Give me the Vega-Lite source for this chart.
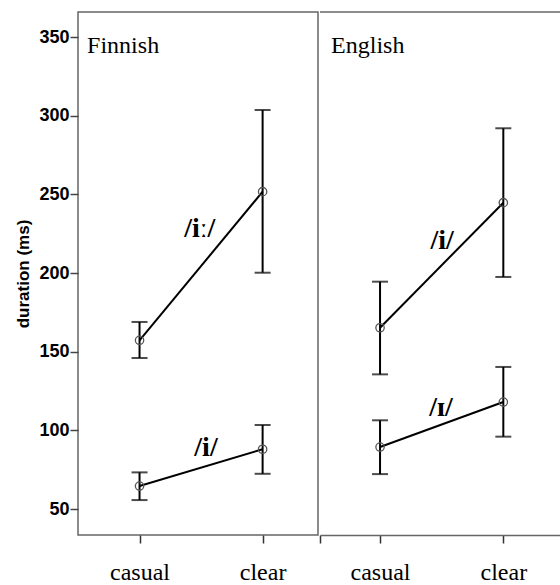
{
  "$schema": "https://vega.github.io/schema/vega-lite/v6.json",
  "autosize": {"type": "pad"},
  "padding": {"left": 14, "top": 11, "right": 0, "bottom": 0},
  "spacing": 0,
  "background": "white",
  "config": {
    "view": {"stroke": "#666", "strokeWidth": 1.5},
    "axis": {"grid": false},
    "axisX": {"labelFont": "Liberation Serif, Times New Roman, serif"},
    "concat": {"spacing": 0}
  },
  "datasets": {
    "means": [
      {"lang": "Finnish", "vowel": "iː", "pos": 0, "mean": 157.2, "lo": 146.0, "hi": 168.9},
      {"lang": "Finnish", "vowel": "iː", "pos": 1, "mean": 251.7, "lo": 200.2, "hi": 303.6},
      {"lang": "Finnish", "vowel": "i", "pos": 0, "mean": 64.6, "lo": 55.7, "hi": 73.3},
      {"lang": "Finnish", "vowel": "i", "pos": 1, "mean": 88.0, "lo": 72.4, "hi": 103.4},
      {"lang": "English", "vowel": "i", "pos": 0, "mean": 165.2, "lo": 135.6, "hi": 194.5},
      {"lang": "English", "vowel": "i", "pos": 1, "mean": 244.7, "lo": 197.5, "hi": 292.0},
      {"lang": "English", "vowel": "ɪ", "pos": 0, "mean": 89.4, "lo": 72.2, "hi": 106.4},
      {"lang": "English", "vowel": "ɪ", "pos": 1, "mean": 118.0, "lo": 96.0, "hi": 140.3}
    ],
    "labels": [
      {"lang": "Finnish", "text": "/iː/", "pos": 0.49, "val": 228},
      {"lang": "Finnish", "text": "/i/", "pos": 0.54, "val": 89},
      {"lang": "English", "text": "/i/", "pos": 0.503, "val": 220.3},
      {"lang": "English", "text": "/ɪ/", "pos": 0.495, "val": 114.4}
    ],
    "titles": [
      {"lang": "Finnish", "pos": -0.426, "val": 340},
      {"lang": "English", "pos": -0.397, "val": 340}
    ],
    "frame": [
      {"lang": "English", "val": 365.9}
    ]
  },
  "hconcat": [
    {
      "width": 240,
      "height": 523,
      "layer": [
        {
          "data": {"name": "means"},
          "transform": [{"filter": "datum.lang == 'Finnish'"}],
          "mark": {"type": "rule", "color": "black", "strokeWidth": 2},
          "encoding": {
            "x": {"field": "pos", "type": "quantitative",
              "scale": {"domain": [-0.5, 1.45], "zero": false, "nice": false},
              "axis": {"values": [0, 1], "labelExpr": "datum.value == 0 ? 'casual' : 'clear'",
                "domain": false, "tickSize": 8, "tickColor": "#333", "tickWidth": 1.5,
                "labelFont": "Liberation Serif, Times New Roman, serif", "labelFontSize": 24, "labelColor": "black",
                "labelPadding": 17, "title": null}},
            "y": {"field": "lo", "type": "quantitative",
              "scale": {"domain": [33.5, 365.9], "zero": false, "nice": false},
              "axis": {"values": [50, 100, 150, 200, 250, 300, 350], "domain": false,
                "tickSize": 8, "tickColor": "#444", "tickWidth": 1.5, "labelPadding": 1,
                "labelFont": "Liberation Sans", "labelFontSize": 18, "labelFontWeight": "bold",
                "labelColor": "black", "title": "duration (ms)", "titleFont": "Liberation Sans",
                "titleFontSize": 17, "titleFontWeight": "bold", "titleColor": "black", "titlePadding": 6}},
            "y2": {"field": "hi"}
          }
        },
        {
          "data": {"name": "means"},
          "transform": [{"filter": "datum.lang == 'Finnish'"}],
          "mark": {"type": "tick", "orient": "horizontal", "size": 16, "thickness": 2, "color": "black"},
          "encoding": {
            "x": {"field": "pos", "type": "quantitative"},
            "y": {"field": "lo", "type": "quantitative"}
          }
        },
        {
          "data": {"name": "means"},
          "transform": [{"filter": "datum.lang == 'Finnish'"}],
          "mark": {"type": "tick", "orient": "horizontal", "size": 16, "thickness": 2, "color": "black"},
          "encoding": {
            "x": {"field": "pos", "type": "quantitative"},
            "y": {"field": "hi", "type": "quantitative"}
          }
        },
        {
          "data": {"name": "means"},
          "transform": [{"filter": "datum.lang == 'Finnish'"}],
          "mark": {"type": "line", "color": "black", "strokeWidth": 2},
          "encoding": {
            "x": {"field": "pos", "type": "quantitative"},
            "y": {"field": "mean", "type": "quantitative"},
            "detail": {"field": "vowel"}
          }
        },
        {
          "data": {"name": "means"},
          "transform": [{"filter": "datum.lang == 'Finnish'"}],
          "mark": {"type": "point", "filled": false, "color": "#555", "size": 70, "strokeWidth": 1.3, "opacity": 1},
          "encoding": {
            "x": {"field": "pos", "type": "quantitative"},
            "y": {"field": "mean", "type": "quantitative"}
          }
        },
        {
          "data": {"name": "labels"},
          "transform": [{"filter": "datum.lang == 'Finnish'"}],
          "mark": {"type": "text", "font": "Liberation Serif", "fontSize": 28, "fontWeight": "bold", "color": "black", "align": "center", "baseline": "middle"},
          "encoding": {
            "x": {"field": "pos", "type": "quantitative"},
            "y": {"field": "val", "type": "quantitative"},
            "text": {"field": "text"}
          }
        },
        {
          "data": {"name": "titles"},
          "transform": [{"filter": "datum.lang == 'Finnish'"}],
          "mark": {"type": "text", "font": "Liberation Serif", "fontSize": 24, "color": "black", "align": "left", "baseline": "alphabetic"},
          "encoding": {
            "x": {"field": "pos", "type": "quantitative"},
            "y": {"field": "val", "type": "quantitative"},
            "text": {"field": "lang"}
          }
        }
      ]
    },
    {
      "width": 242,
      "height": 523,
      "view": {"stroke": null},
      "layer": [
        {
          "data": {"name": "means"},
          "transform": [{"filter": "datum.lang == 'English'"}],
          "mark": {"type": "rule", "color": "black", "strokeWidth": 2},
          "encoding": {
            "x": {"field": "pos", "type": "quantitative",
              "scale": {"domain": [-0.487, 1.476], "zero": false, "nice": false},
              "axis": {"values": [-0.487, 0, 1], "labelExpr": "datum.value == 0 ? 'casual' : datum.value == 1 ? 'clear' : ''",
                "domain": true, "domainColor": "#666", "domainWidth": 1.5, "tickSize": 8, "tickColor": "#333", "tickWidth": 1.5,
                "labelFont": "Liberation Serif, Times New Roman, serif", "labelFontSize": 24, "labelColor": "black",
                "labelPadding": 17, "title": null}},
            "y": {"field": "lo", "type": "quantitative",
              "scale": {"domain": [33.5, 365.9], "zero": false, "nice": false},
              "axis": null},
            "y2": {"field": "hi"}
          }
        },
        {
          "data": {"name": "frame"},
          "mark": {"type": "rule", "color": "#666", "strokeWidth": 1.5},
          "encoding": {
            "y": {"field": "val", "type": "quantitative"}
          }
        },
        {
          "data": {"name": "means"},
          "transform": [{"filter": "datum.lang == 'English'"}],
          "mark": {"type": "tick", "orient": "horizontal", "size": 16, "thickness": 2, "color": "black"},
          "encoding": {
            "x": {"field": "pos", "type": "quantitative"},
            "y": {"field": "lo", "type": "quantitative"}
          }
        },
        {
          "data": {"name": "means"},
          "transform": [{"filter": "datum.lang == 'English'"}],
          "mark": {"type": "tick", "orient": "horizontal", "size": 16, "thickness": 2, "color": "black"},
          "encoding": {
            "x": {"field": "pos", "type": "quantitative"},
            "y": {"field": "hi", "type": "quantitative"}
          }
        },
        {
          "data": {"name": "means"},
          "transform": [{"filter": "datum.lang == 'English'"}],
          "mark": {"type": "line", "color": "black", "strokeWidth": 2},
          "encoding": {
            "x": {"field": "pos", "type": "quantitative"},
            "y": {"field": "mean", "type": "quantitative"},
            "detail": {"field": "vowel"}
          }
        },
        {
          "data": {"name": "means"},
          "transform": [{"filter": "datum.lang == 'English'"}],
          "mark": {"type": "point", "filled": false, "color": "#555", "size": 70, "strokeWidth": 1.3, "opacity": 1},
          "encoding": {
            "x": {"field": "pos", "type": "quantitative"},
            "y": {"field": "mean", "type": "quantitative"}
          }
        },
        {
          "data": {"name": "labels"},
          "transform": [{"filter": "datum.lang == 'English'"}],
          "mark": {"type": "text", "font": "Liberation Serif", "fontSize": 28, "fontWeight": "bold", "color": "black", "align": "center", "baseline": "middle"},
          "encoding": {
            "x": {"field": "pos", "type": "quantitative"},
            "y": {"field": "val", "type": "quantitative"},
            "text": {"field": "text"}
          }
        },
        {
          "data": {"name": "titles"},
          "transform": [{"filter": "datum.lang == 'English'"}],
          "mark": {"type": "text", "font": "Liberation Serif", "fontSize": 24, "color": "black", "align": "left", "baseline": "alphabetic"},
          "encoding": {
            "x": {"field": "pos", "type": "quantitative"},
            "y": {"field": "val", "type": "quantitative"},
            "text": {"field": "lang"}
          }
        }
      ]
    }
  ]
}
